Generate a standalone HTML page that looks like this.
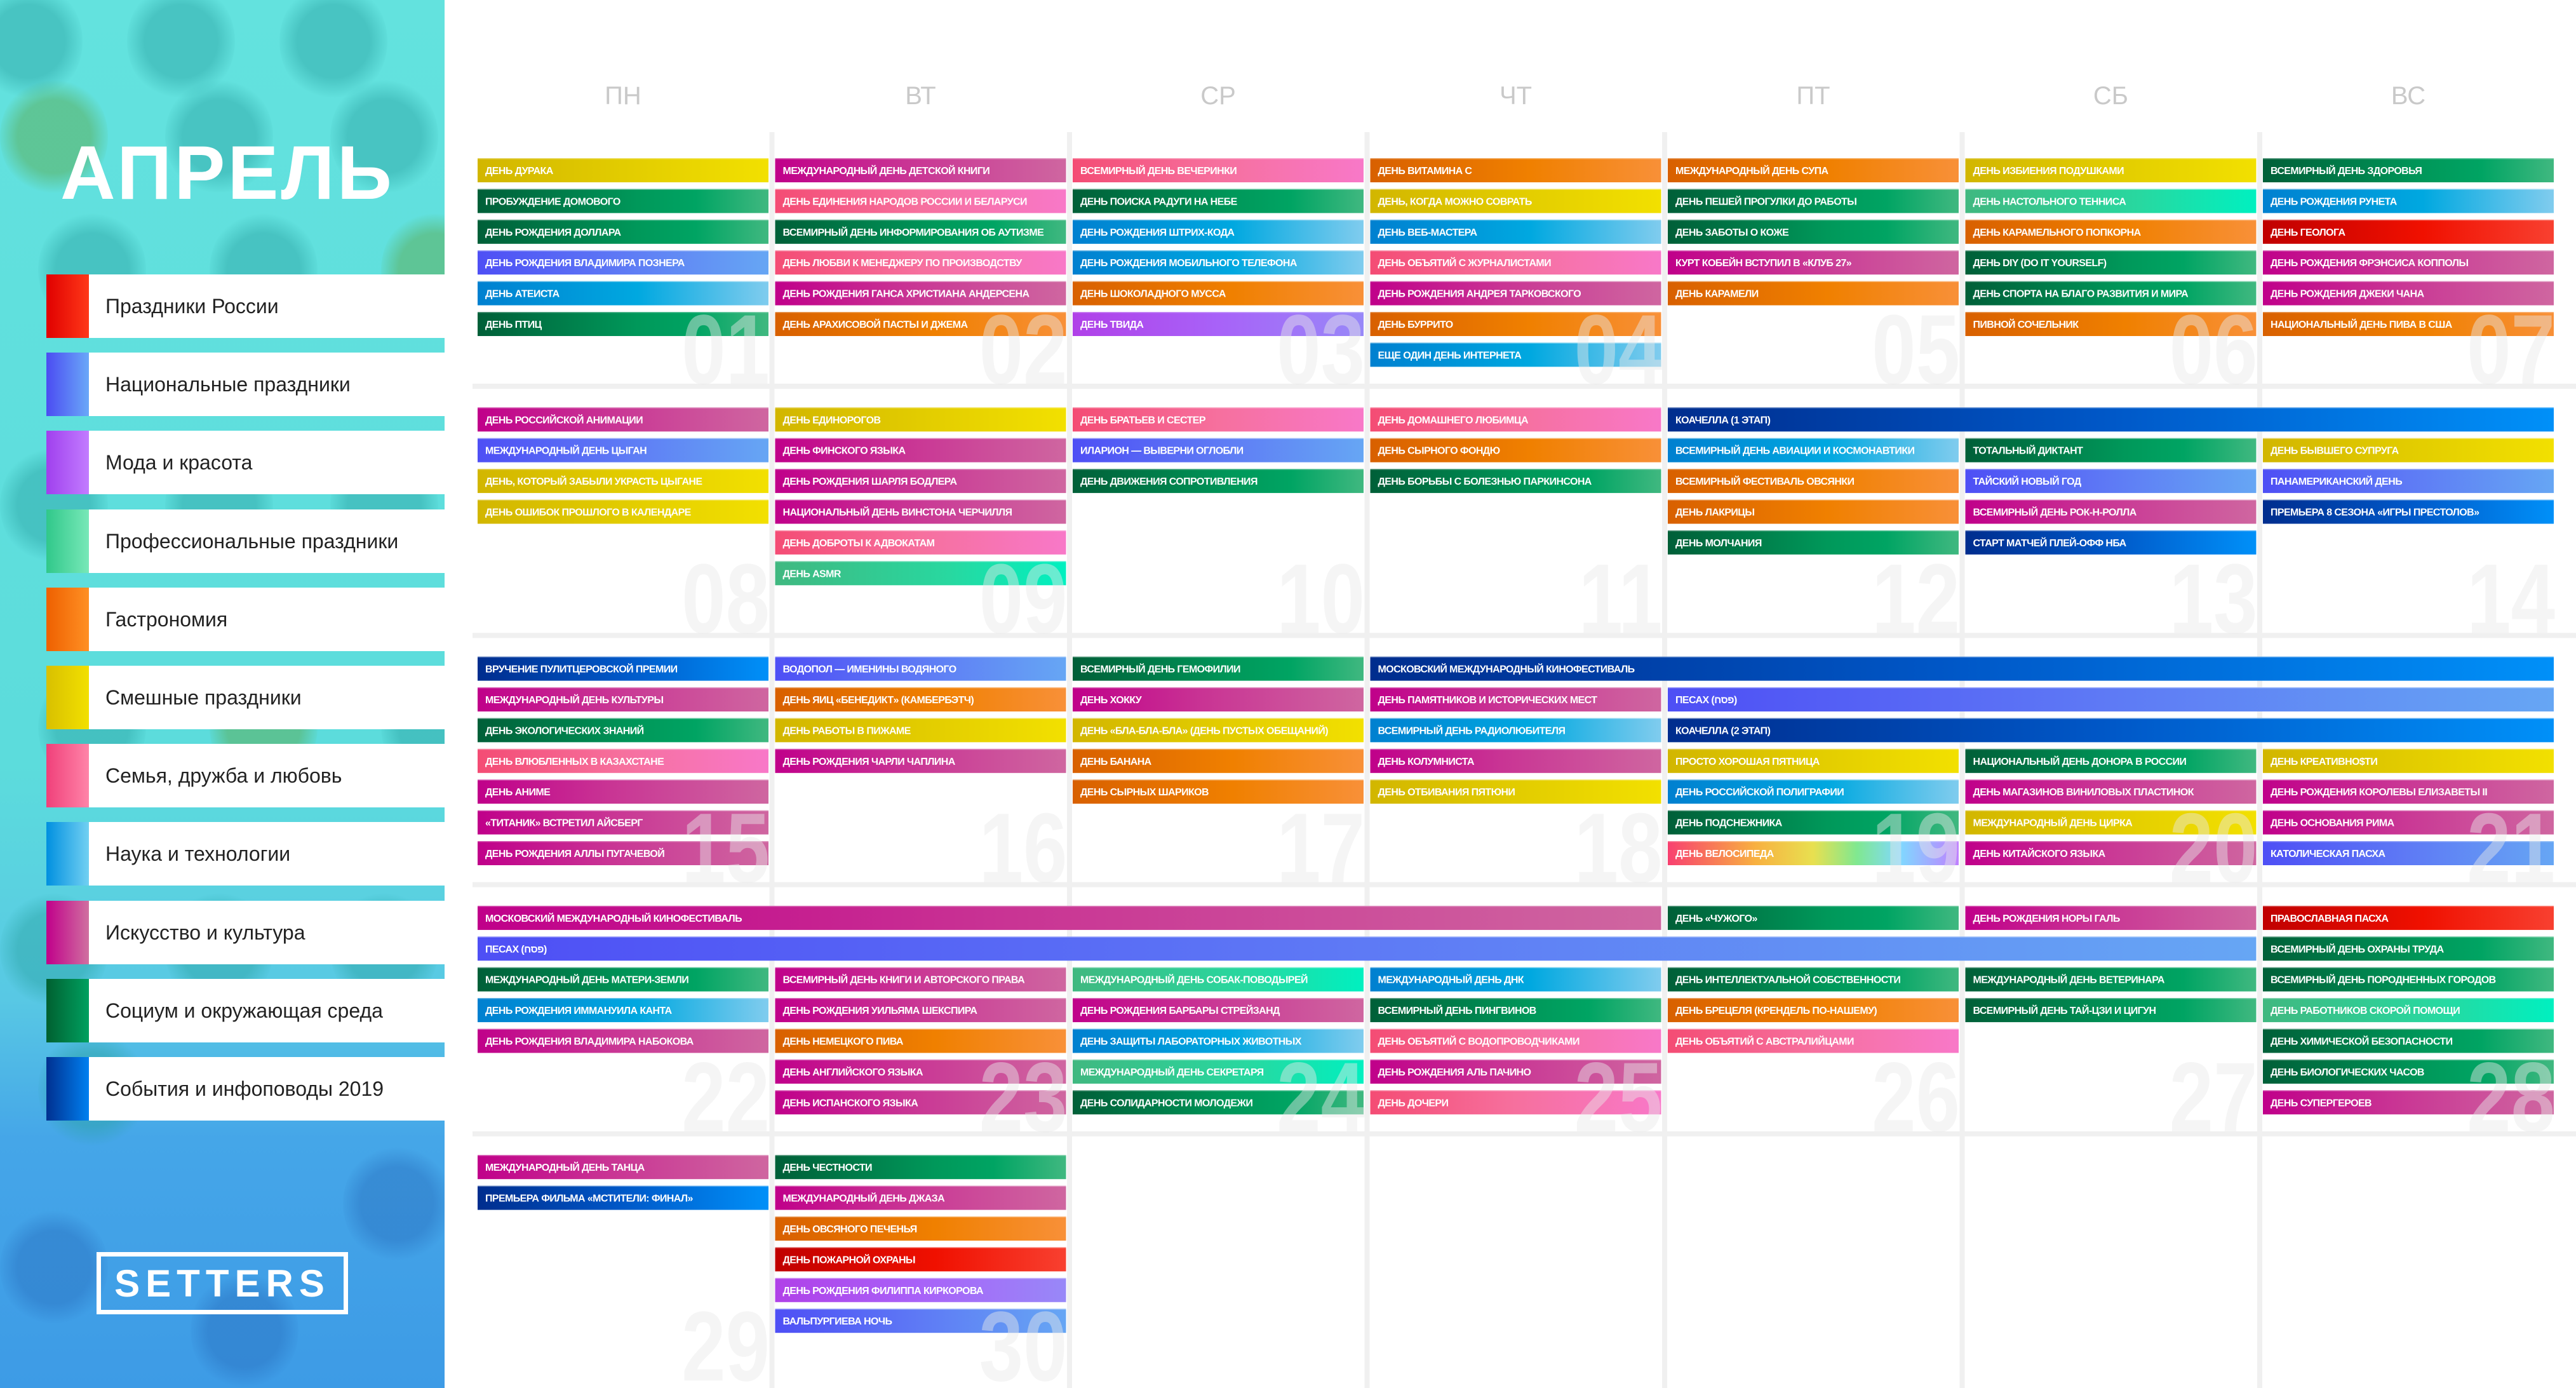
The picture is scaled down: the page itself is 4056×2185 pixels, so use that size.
<!DOCTYPE html>
<html><head><meta charset="utf-8">
<style>
html,body{margin:0;padding:0;background:#fff;}
body{width:4056px;height:2185px;position:relative;overflow:hidden;font-family:"Liberation Sans","DejaVu Sans",sans-serif;}
#side{position:absolute;left:0;top:0;width:700px;height:2185px;overflow:hidden;
background:linear-gradient(180deg,#63e2de 0%,#5cdcdc 55%,#58c8e4 72%,#45a6e8 82%,#3d9be6 100%);}
.rose{position:absolute;width:170px;height:190px;border-radius:50%;}
#title{position:absolute;left:95px;top:212px;font-size:120px;font-weight:bold;color:#fff;letter-spacing:4px;line-height:1;}
.leg{position:absolute;left:73px;width:627px;height:100px;background:#fff;}
.sw{position:absolute;left:0;top:0;width:67px;height:100px;}
.lt{position:absolute;left:93px;top:0;line-height:100px;font-size:32px;color:#222;}
#logo{position:absolute;left:152px;top:1971px;width:382px;height:84px;border:7px solid #fff;color:#fff;font-weight:bold;font-size:60px;letter-spacing:9px;text-align:center;line-height:86px;}
#cal{position:absolute;left:0;top:0;}
</style></head><body>
<div id="side">
  <div id="roses"></div>
  <div id="title">АПРЕЛЬ</div>
  <div id="legend"></div>
  <div id="logo">SETTERS</div>
</div>
<svg id="cal" width="4056" height="2185" xmlns="http://www.w3.org/2000/svg">
<defs id="defs"></defs>
<g id="grid"></g><g id="heads"></g><g id="bars"></g><g id="nums"></g>
</svg>
<script>
const dayNames=["ПН","ВТ","СР","ЧТ","ПТ","СБ","ВС"];
const legendNames=["Праздники России","Национальные праздники","Мода и красота","Профессиональные праздники","Гастрономия","Смешные праздники","Семья, дружба и любовь","Наука и технологии","Искусство и культура","Социум и окружающая среда","События и инфоповоды 2019"];
const legendCats=["R","B","V","T","O","Y","P","S","M","G","D"];
const dayNumbers=["01","02","03","04","05","06","07","08","09","10","11","12","13","14","15","16","17","18","19","20","21","22","23","24","25","26","27","28","29","30"];
// [col, span, row, category, text]
const week1=[
[0,1,0,"Y","ДЕНЬ ДУРАКА"],[0,1,1,"G","ПРОБУЖДЕНИЕ ДОМОВОГО"],[0,1,2,"G","ДЕНЬ РОЖДЕНИЯ ДОЛЛАРА"],[0,1,3,"B","ДЕНЬ РОЖДЕНИЯ ВЛАДИМИРА ПОЗНЕРА"],[0,1,4,"S","ДЕНЬ АТЕИСТА"],[0,1,5,"G","ДЕНЬ ПТИЦ"],
[1,1,0,"M","МЕЖДУНАРОДНЫЙ ДЕНЬ ДЕТСКОЙ КНИГИ"],[1,1,1,"P","ДЕНЬ ЕДИНЕНИЯ НАРОДОВ РОССИИ И БЕЛАРУСИ"],[1,1,2,"G","ВСЕМИРНЫЙ ДЕНЬ ИНФОРМИРОВАНИЯ ОБ АУТИЗМЕ"],[1,1,3,"P","ДЕНЬ ЛЮБВИ К МЕНЕДЖЕРУ ПО ПРОИЗВОДСТВУ"],[1,1,4,"M","ДЕНЬ РОЖДЕНИЯ ГАНСА ХРИСТИАНА АНДЕРСЕНА"],[1,1,5,"O","ДЕНЬ АРАХИСОВОЙ ПАСТЫ И ДЖЕМА"],
[2,1,0,"P","ВСЕМИРНЫЙ ДЕНЬ ВЕЧЕРИНКИ"],[2,1,1,"G","ДЕНЬ ПОИСКА РАДУГИ НА НЕБЕ"],[2,1,2,"S","ДЕНЬ РОЖДЕНИЯ ШТРИХ-КОДА"],[2,1,3,"S","ДЕНЬ РОЖДЕНИЯ МОБИЛЬНОГО ТЕЛЕФОНА"],[2,1,4,"O","ДЕНЬ ШОКОЛАДНОГО МУССА"],[2,1,5,"V","ДЕНЬ ТВИДА"],
[3,1,0,"O","ДЕНЬ ВИТАМИНА С"],[3,1,1,"Y","ДЕНЬ, КОГДА МОЖНО СОВРАТЬ"],[3,1,2,"S","ДЕНЬ ВЕБ-МАСТЕРА"],[3,1,3,"P","ДЕНЬ ОБЪЯТИЙ С ЖУРНАЛИСТАМИ"],[3,1,4,"M","ДЕНЬ РОЖДЕНИЯ АНДРЕЯ ТАРКОВСКОГО"],[3,1,5,"O","ДЕНЬ БУРРИТО"],[3,1,6,"S","ЕЩЕ ОДИН ДЕНЬ ИНТЕРНЕТА"],
[4,1,0,"O","МЕЖДУНАРОДНЫЙ ДЕНЬ СУПА"],[4,1,1,"G","ДЕНЬ ПЕШЕЙ ПРОГУЛКИ ДО РАБОТЫ"],[4,1,2,"G","ДЕНЬ ЗАБОТЫ О КОЖЕ"],[4,1,3,"M","КУРТ КОБЕЙН ВСТУПИЛ В «КЛУБ 27»"],[4,1,4,"O","ДЕНЬ КАРАМЕЛИ"],
[5,1,0,"Y","ДЕНЬ ИЗБИЕНИЯ ПОДУШКАМИ"],[5,1,1,"T","ДЕНЬ НАСТОЛЬНОГО ТЕННИСА"],[5,1,2,"O","ДЕНЬ КАРАМЕЛЬНОГО ПОПКОРНА"],[5,1,3,"G","ДЕНЬ DIY (DO IT YOURSELF)"],[5,1,4,"G","ДЕНЬ СПОРТА НА БЛАГО РАЗВИТИЯ И МИРА"],[5,1,5,"O","ПИВНОЙ СОЧЕЛЬНИК"],
[6,1,0,"G","ВСЕМИРНЫЙ ДЕНЬ ЗДОРОВЬЯ"],[6,1,1,"S","ДЕНЬ РОЖДЕНИЯ РУНЕТА"],[6,1,2,"R","ДЕНЬ ГЕОЛОГА"],[6,1,3,"M","ДЕНЬ РОЖДЕНИЯ ФРЭНСИСА КОППОЛЫ"],[6,1,4,"M","ДЕНЬ РОЖДЕНИЯ ДЖЕКИ ЧАНА"],[6,1,5,"O","НАЦИОНАЛЬНЫЙ ДЕНЬ ПИВА В США"]];
const week2=[
[0,1,0,"M","ДЕНЬ РОССИЙСКОЙ АНИМАЦИИ"],[0,1,1,"B","МЕЖДУНАРОДНЫЙ ДЕНЬ ЦЫГАН"],[0,1,2,"Y","ДЕНЬ, КОТОРЫЙ ЗАБЫЛИ УКРАСТЬ ЦЫГАНЕ"],[0,1,3,"Y","ДЕНЬ ОШИБОК ПРОШЛОГО В КАЛЕНДАРЕ"],
[1,1,0,"Y","ДЕНЬ ЕДИНОРОГОВ"],[1,1,1,"M","ДЕНЬ ФИНСКОГО ЯЗЫКА"],[1,1,2,"M","ДЕНЬ РОЖДЕНИЯ ШАРЛЯ БОДЛЕРА"],[1,1,3,"M","НАЦИОНАЛЬНЫЙ ДЕНЬ ВИНСТОНА ЧЕРЧИЛЛЯ"],[1,1,4,"P","ДЕНЬ ДОБРОТЫ К АДВОКАТАМ"],[1,1,5,"T","ДЕНЬ ASMR"],
[2,1,0,"P","ДЕНЬ БРАТЬЕВ И СЕСТЕР"],[2,1,1,"B","ИЛАРИОН — ВЫВЕРНИ ОГЛОБЛИ"],[2,1,2,"G","ДЕНЬ ДВИЖЕНИЯ СОПРОТИВЛЕНИЯ"],
[3,1,0,"P","ДЕНЬ ДОМАШНЕГО ЛЮБИМЦА"],[3,1,1,"O","ДЕНЬ СЫРНОГО ФОНДЮ"],[3,1,2,"G","ДЕНЬ БОРЬБЫ С БОЛЕЗНЬЮ ПАРКИНСОНА"],
[4,3,0,"D","КОАЧЕЛЛА (1 ЭТАП)"],[4,1,1,"S","ВСЕМИРНЫЙ ДЕНЬ АВИАЦИИ И КОСМОНАВТИКИ"],[4,1,2,"O","ВСЕМИРНЫЙ ФЕСТИВАЛЬ ОВСЯНКИ"],[4,1,3,"O","ДЕНЬ ЛАКРИЦЫ"],[4,1,4,"G","ДЕНЬ МОЛЧАНИЯ"],
[5,1,1,"G","ТОТАЛЬНЫЙ ДИКТАНТ"],[5,1,2,"B","ТАЙСКИЙ НОВЫЙ ГОД"],[5,1,3,"M","ВСЕМИРНЫЙ ДЕНЬ РОК-Н-РОЛЛА"],[5,1,4,"D","СТАРТ МАТЧЕЙ ПЛЕЙ-ОФФ НБА"],
[6,1,1,"Y","ДЕНЬ БЫВШЕГО СУПРУГА"],[6,1,2,"B","ПАНАМЕРИКАНСКИЙ ДЕНЬ"],[6,1,3,"D","ПРЕМЬЕРА 8 СЕЗОНА «ИГРЫ ПРЕСТОЛОВ»"]];
const week3=[
[0,1,0,"D","ВРУЧЕНИЕ ПУЛИТЦЕРОВСКОЙ ПРЕМИИ"],[0,1,1,"M","МЕЖДУНАРОДНЫЙ ДЕНЬ КУЛЬТУРЫ"],[0,1,2,"G","ДЕНЬ ЭКОЛОГИЧЕСКИХ ЗНАНИЙ"],[0,1,3,"P","ДЕНЬ ВЛЮБЛЕННЫХ В КАЗАХСТАНЕ"],[0,1,4,"M","ДЕНЬ АНИМЕ"],[0,1,5,"M","«ТИТАНИК» ВСТРЕТИЛ АЙСБЕРГ"],[0,1,6,"M","ДЕНЬ РОЖДЕНИЯ АЛЛЫ ПУГАЧЕВОЙ"],
[1,1,0,"B","ВОДОПОЛ — ИМЕНИНЫ ВОДЯНОГО"],[1,1,1,"O","ДЕНЬ ЯИЦ «БЕНЕДИКТ» (КАМБЕРБЭТЧ)"],[1,1,2,"Y","ДЕНЬ РАБОТЫ В ПИЖАМЕ"],[1,1,3,"M","ДЕНЬ РОЖДЕНИЯ ЧАРЛИ ЧАПЛИНА"],
[2,1,0,"G","ВСЕМИРНЫЙ ДЕНЬ ГЕМОФИЛИИ"],[2,1,1,"M","ДЕНЬ ХОККУ"],[2,1,2,"Y","ДЕНЬ «БЛА-БЛА-БЛА» (ДЕНЬ ПУСТЫХ ОБЕЩАНИЙ)"],[2,1,3,"O","ДЕНЬ БАНАНА"],[2,1,4,"O","ДЕНЬ СЫРНЫХ ШАРИКОВ"],
[3,4,0,"D","МОСКОВСКИЙ МЕЖДУНАРОДНЫЙ КИНОФЕСТИВАЛЬ"],[3,1,1,"M","ДЕНЬ ПАМЯТНИКОВ И ИСТОРИЧЕСКИХ МЕСТ"],[3,1,2,"S","ВСЕМИРНЫЙ ДЕНЬ РАДИОЛЮБИТЕЛЯ"],[3,1,3,"M","ДЕНЬ КОЛУМНИСТА"],[3,1,4,"Y","ДЕНЬ ОТБИВАНИЯ ПЯТЮНИ"],
[4,3,1,"B","ПЕСАХ (פסח)"],[4,3,2,"D","КОАЧЕЛЛА (2 ЭТАП)"],[4,1,3,"Y","ПРОСТО ХОРОШАЯ ПЯТНИЦА"],[4,1,4,"S","ДЕНЬ РОССИЙСКОЙ ПОЛИГРАФИИ"],[4,1,5,"G","ДЕНЬ ПОДСНЕЖНИКА"],[4,1,6,"W","ДЕНЬ ВЕЛОСИПЕДА"],
[5,1,3,"G","НАЦИОНАЛЬНЫЙ ДЕНЬ ДОНОРА В РОССИИ"],[5,1,4,"M","ДЕНЬ МАГАЗИНОВ ВИНИЛОВЫХ ПЛАСТИНОК"],[5,1,5,"Y","МЕЖДУНАРОДНЫЙ ДЕНЬ ЦИРКА"],[5,1,6,"M","ДЕНЬ КИТАЙСКОГО ЯЗЫКА"],
[6,1,3,"Y","ДЕНЬ КРЕАТИВНО$ТИ"],[6,1,4,"M","ДЕНЬ РОЖДЕНИЯ КОРОЛЕВЫ ЕЛИЗАВЕТЫ II"],[6,1,5,"M","ДЕНЬ ОСНОВАНИЯ РИМА"],[6,1,6,"B","КАТОЛИЧЕСКАЯ ПАСХА"]];
const week4=[
[0,4,0,"M","МОСКОВСКИЙ МЕЖДУНАРОДНЫЙ КИНОФЕСТИВАЛЬ"],[0,6,1,"B","ПЕСАХ (פסח)"],[0,1,2,"G","МЕЖДУНАРОДНЫЙ ДЕНЬ МАТЕРИ-ЗЕМЛИ"],[0,1,3,"S","ДЕНЬ РОЖДЕНИЯ ИММАНУИЛА КАНТА"],[0,1,4,"M","ДЕНЬ РОЖДЕНИЯ ВЛАДИМИРА НАБОКОВА"],
[1,1,2,"M","ВСЕМИРНЫЙ ДЕНЬ КНИГИ И АВТОРСКОГО ПРАВА"],[1,1,3,"M","ДЕНЬ РОЖДЕНИЯ УИЛЬЯМА ШЕКСПИРА"],[1,1,4,"O","ДЕНЬ НЕМЕЦКОГО ПИВА"],[1,1,5,"M","ДЕНЬ АНГЛИЙСКОГО ЯЗЫКА"],[1,1,6,"M","ДЕНЬ ИСПАНСКОГО ЯЗЫКА"],
[2,1,2,"T","МЕЖДУНАРОДНЫЙ ДЕНЬ СОБАК-ПОВОДЫРЕЙ"],[2,1,3,"M","ДЕНЬ РОЖДЕНИЯ БАРБАРЫ СТРЕЙЗАНД"],[2,1,4,"S","ДЕНЬ ЗАЩИТЫ ЛАБОРАТОРНЫХ ЖИВОТНЫХ"],[2,1,5,"T","МЕЖДУНАРОДНЫЙ ДЕНЬ СЕКРЕТАРЯ"],[2,1,6,"G","ДЕНЬ СОЛИДАРНОСТИ МОЛОДЕЖИ"],
[3,1,2,"S","МЕЖДУНАРОДНЫЙ ДЕНЬ ДНК"],[3,1,3,"G","ВСЕМИРНЫЙ ДЕНЬ ПИНГВИНОВ"],[3,1,4,"P","ДЕНЬ ОБЪЯТИЙ С ВОДОПРОВОДЧИКАМИ"],[3,1,5,"M","ДЕНЬ РОЖДЕНИЯ АЛЬ ПАЧИНО"],[3,1,6,"P","ДЕНЬ ДОЧЕРИ"],
[4,1,0,"G","ДЕНЬ «ЧУЖОГО»"],[4,1,2,"G","ДЕНЬ ИНТЕЛЛЕКТУАЛЬНОЙ СОБСТВЕННОСТИ"],[4,1,3,"O","ДЕНЬ БРЕЦЕЛЯ (КРЕНДЕЛЬ ПО-НАШЕМУ)"],[4,1,4,"P","ДЕНЬ ОБЪЯТИЙ С АВСТРАЛИЙЦАМИ"],
[5,1,0,"M","ДЕНЬ РОЖДЕНИЯ НОРЫ ГАЛЬ"],[5,1,2,"G","МЕЖДУНАРОДНЫЙ ДЕНЬ ВЕТЕРИНАРА"],[5,1,3,"G","ВСЕМИРНЫЙ ДЕНЬ ТАЙ-ЦЗИ И ЦИГУН"],
[6,1,0,"R","ПРАВОСЛАВНАЯ ПАСХА"],[6,1,1,"G","ВСЕМИРНЫЙ ДЕНЬ ОХРАНЫ ТРУДА"],[6,1,2,"G","ВСЕМИРНЫЙ ДЕНЬ ПОРОДНЕННЫХ ГОРОДОВ"],[6,1,3,"T","ДЕНЬ РАБОТНИКОВ СКОРОЙ ПОМОЩИ"],[6,1,4,"G","ДЕНЬ ХИМИЧЕСКОЙ БЕЗОПАСНОСТИ"],[6,1,5,"G","ДЕНЬ БИОЛОГИЧЕСКИХ ЧАСОВ"],[6,1,6,"M","ДЕНЬ СУПЕРГЕРОЕВ"]];
const week5=[
[0,1,0,"M","МЕЖДУНАРОДНЫЙ ДЕНЬ ТАНЦА"],[0,1,1,"D","ПРЕМЬЕРА ФИЛЬМА «МСТИТЕЛИ: ФИНАЛ»"],
[1,1,0,"G","ДЕНЬ ЧЕСТНОСТИ"],[1,1,1,"M","МЕЖДУНАРОДНЫЙ ДЕНЬ ДЖАЗА"],[1,1,2,"O","ДЕНЬ ОВСЯНОГО ПЕЧЕНЬЯ"],[1,1,3,"R","ДЕНЬ ПОЖАРНОЙ ОХРАНЫ"],[1,1,4,"V","ДЕНЬ РОЖДЕНИЯ ФИЛИППА КИРКОРОВА"],[1,1,5,"B","ВАЛЬПУРГИЕВА НОЧЬ"]];
const weeks=[week1,week2,week3,week4,week5];

const grads={
Y:[["0","#d2b600"],["0.5","#e2cc00"],["1","#f2e000"]],
G:[["0","#005f38"],["0.55","#00985a"],["0.75","#00a463"],["1","#40b880"]],
B:[["0","#4e4ff5"],["0.5","#5e7af5"],["1","#66a6f4"]],
S:[["0","#0080d0"],["0.55","#00a8e0"],["1","#80ccee"]],
M:[["0","#c0008a"],["0.45","#c93494"],["1","#cf66a0"]],
P:[["0","#f44c74"],["0.5","#f6709e"],["1","#f878c8"]],
O:[["0","#d86000"],["0.55","#f08000"],["1","#f89038"]],
R:[["0","#c00000"],["0.55","#f01000"],["1","#f84030"]],
V:[["0","#b040e8"],["0.5","#a862f8"],["1","#9888f8"]],
T:[["0","#40b880"],["0.6","#28d8a0"],["1","#00f0c0"]],
D:[["0","#002d8e"],["0.5","#0058c8"],["1","#0090f8"]],
W:[["0","#f84070"],["0.3","#f8b040"],["0.5","#e8e050"],["0.65","#80e890"],["0.8","#80d8ff"],["1","#c080ff"]]};

const NS="http://www.w3.org/2000/svg";
const X0=752,PITCH=468.5,CW=458,Y0=249,RP=48.4,BH=38,WP=392.3;
const colX=c=>X0+c*PITCH;
const rowY=(w,r)=>Y0+w*WP+r*RP;
function mk(tag,attrs,parent){const e=document.createElementNS(NS,tag);for(const k in attrs)e.setAttribute(k,attrs[k]);parent.appendChild(e);return e;}

const defs=document.getElementById('defs');
for(const k in grads){const g=mk('linearGradient',{id:'g'+k,x1:0,y1:0,x2:1,y2:0},defs);grads[k].forEach(s=>mk('stop',{offset:s[0],'stop-color':s[1]},g));}

const grid=document.getElementById('grid');
for(let c=1;c<7;c++){const l=mk('rect',{x:colX(c)-9,y:208,width:8,height:1977,fill:'#f0f0f0'},grid);

}
for(let w=0;w<4;w++){const l=mk('rect',{x:744,y:Y0+355+w*WP,width:3312,height:8,fill:'#f0f0f0'},grid);

}
const heads=document.getElementById('heads');
dayNames.forEach((d,i)=>{const t=mk('text',{x:colX(i)+CW/2,y:164,'text-anchor':'middle','font-size':40,fill:'#c9c9c9','font-family':'Liberation Sans, sans-serif'},heads);t.textContent=d;

});
const bars=document.getElementById('bars');
weeks.forEach((wk,w)=>{wk.forEach(ev=>{
  const [c,span,r,cat,txt]=ev;const x=colX(c),y=rowY(w,r),wd=span*PITCH-(PITCH-CW);
  const g=mk('g',{},bars);
  
  
  mk('rect',{x:x,y:y,width:wd,height:BH,fill:'url(#g'+cat+')'},g);
  mk('rect',{x:x,y:y,width:wd,height:1.5,fill:'rgba(255,255,255,0.35)'},g);
  const t=mk('text',{x:x+12,y:y+25,'font-size':16,'font-weight':'bold',fill:'#fff','letter-spacing':'-0.6','font-family':'Liberation Sans, DejaVu Sans, sans-serif'},g);
  t.textContent=txt;
  
  
});});
const nums=document.getElementById('nums');
dayNumbers.forEach((n,i)=>{const w=Math.floor(i/7),c=i%7;
  const t=mk('text',{transform:`translate(${colX(c)+CW+2},${Y0+355+w*WP}) scale(0.8,1)`,'text-anchor':'end','font-size':156,'font-weight':'bold',fill:'rgba(232,232,232,0.45)','font-family':'Liberation Sans, sans-serif'},nums);
  t.textContent=n;
  
  });

const legend=document.getElementById('legend');
const swatch={R:"linear-gradient(90deg,#e00000,#ff3818)",B:"linear-gradient(90deg,#4b4cf2,#6aa8f8)",V:"linear-gradient(90deg,#a040ee,#c27cff)",T:"linear-gradient(90deg,#30c88a,#78e8b8)",O:"linear-gradient(90deg,#ee6000,#ff9024)",Y:"linear-gradient(90deg,#d8c000,#f2e000)",P:"linear-gradient(90deg,#f0407a,#ff84a8)",S:"linear-gradient(90deg,#0090e0,#72d0f2)",M:"linear-gradient(90deg,#c0008a,#d070a0)",G:"linear-gradient(90deg,#006030,#00a060)",D:"linear-gradient(90deg,#003090,#0080f0)"};
legendNames.forEach((n,i)=>{const d=document.createElement('div');d.className='leg';d.style.top=(432+i*123.2)+'px';
  
  
  const s=document.createElement('div');s.className='sw';s.style.background=swatch[legendCats[i]];
  
  
  const t=document.createElement('div');t.className='lt';t.textContent=n;
  
  
  d.appendChild(s);d.appendChild(t);legend.appendChild(d);});
const roses=document.getElementById('roses');
const rosePos=[[-40,-30],[200,-30],[440,-30],[0,120],[260,120],[520,120],[60,330],[330,330],[600,330],[0,700],[260,700],[520,700],[60,1050],[330,1050],[600,1050],[0,1400],[260,1400],[520,1400],[0,1900],[300,2000],[540,1800],[60,1620]];
rosePos.forEach((p,i)=>{const r=document.createElement('div');r.className='rose';r.style.left=p[0]+'px';r.style.top=p[1]+'px';
  const col=p[1]>1700?'rgba(40,110,190,0.45)':(i%5==3?'rgba(90,170,80,0.5)':'rgba(40,160,160,0.45)');
  r.style.background='radial-gradient(circle at 50% 50%,'+col+' 0%,'+col+' 45%,rgba(0,0,0,0) 70%)';
  
  
  roses.appendChild(r);});
</script>
</body></html>
